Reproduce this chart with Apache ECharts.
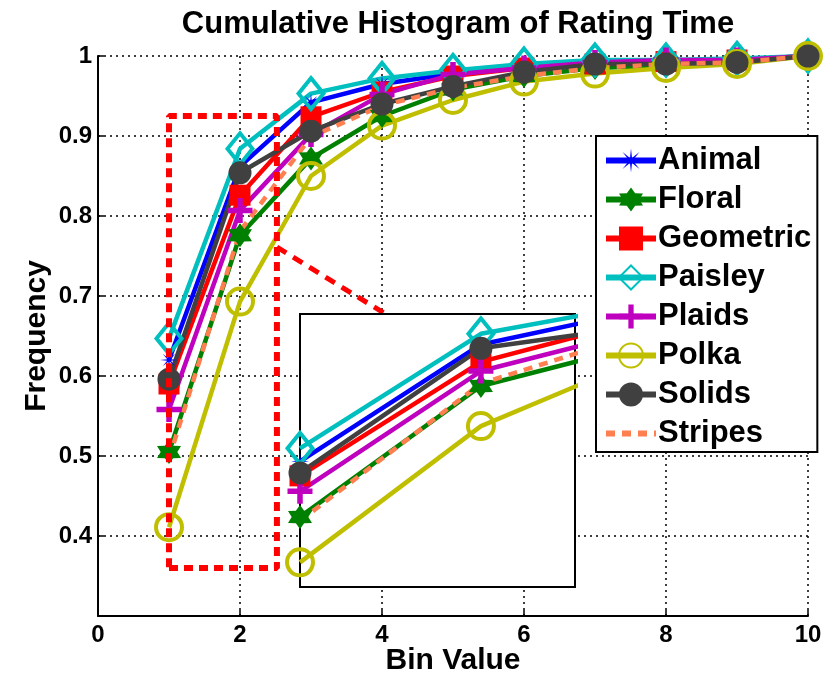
<!DOCTYPE html>
<html><head><meta charset="utf-8">
<script src="https://cdn.jsdelivr.net/npm/echarts@6/dist/echarts.min.js"></script>
<style>html,body{margin:0;padding:0;background:#fff}#c{width:835px;height:676px}</style>
</head><body><div id="c"></div>
<script>
// ---- data ----
const bins = [1, 2, 3, 4, 5, 6, 7, 8, 9, 10];
const seriesNames = ['Animal', 'Floral', 'Geometric', 'Paisley', 'Plaids', 'Polka', 'Solids', 'Stripes'];
const animal    = [0.620, 0.862, 0.942, 0.965, 0.978, 0.988, 0.990, 0.993, 0.995, 1.0];
const floral    = [0.505, 0.776, 0.872, 0.925, 0.958, 0.975, 0.985, 0.988, 0.993, 1.0];
const geometric = [0.590, 0.826, 0.924, 0.955, 0.975, 0.985, 0.990, 0.993, 0.995, 1.0];
const paisley   = [0.647, 0.884, 0.953, 0.972, 0.982, 0.990, 0.995, 0.995, 0.997, 1.0];
const plaids    = [0.558, 0.807, 0.902, 0.952, 0.977, 0.985, 0.992, 0.995, 0.995, 1.0];
const polka     = [0.411, 0.693, 0.850, 0.913, 0.945, 0.968, 0.978, 0.985, 0.990, 1.0];
const solids    = [0.596, 0.854, 0.906, 0.940, 0.962, 0.980, 0.990, 0.990, 0.992, 1.0];
const stripes   = [0.497, 0.781, 0.899, 0.938, 0.960, 0.975, 0.985, 0.990, 0.992, 1.0];
const xTicks = [0, 2, 4, 6, 8, 10];
const yTicks = [0.4, 0.5, 0.6, 0.7, 0.8, 0.9, 1];
// zoom region (data units) and connector
const zoomX = [1, 2.52];
const zoomY = [0.36, 0.925];
const connector = [[2.52, 0.761], [4.04, 0.678]];

// ---- styles ----
function starPath(n, rIn) {
  let s = 'path://';
  for (let i = 0; i < 2 * n; i++) {
    const r = i % 2 === 0 ? 1 : rIn;
    const a = Math.PI * i / n - Math.PI / 2;
    s += (i === 0 ? 'M' : 'L') + (r * Math.cos(a)).toFixed(3) + ',' + (r * Math.sin(a)).toFixed(3) + ' ';
  }
  return s + 'Z';
}
const plusPath = 'path://M-1,-0.22 L-0.22,-0.22 L-0.22,-1 L0.22,-1 L0.22,-0.22 L1,-0.22 L1,0.22 L0.22,0.22 L0.22,1 L-0.22,1 L-0.22,0.22 L-1,0.22 Z';
const styles = {
  Animal:    {color: '#0000FF', symbol: starPath(8, 0.22), size: 18, fill: true},
  Floral:    {color: '#008000', symbol: starPath(6, 0.6), size: 24, fill: true},
  Geometric: {color: '#FF0000', symbol: 'rect', size: 21, fill: true},
  Paisley:   {color: '#00BFBF', symbol: 'diamond', size: [25, 31], fill: false},
  Plaids:    {color: '#BF00BF', symbol: plusPath, size: 25, fill: true},
  Polka:     {color: '#BFBF00', symbol: 'circle', size: 26, fill: false},
  Solids:    {color: '#404040', symbol: 'circle', size: 23, fill: true},
  Stripes:   {color: '#FF7F50', symbol: 'none', size: 0, fill: true, dashed: true}
};
const values = {Animal: animal, Floral: floral, Geometric: geometric, Paisley: paisley,
  Plaids: plaids, Polka: polka, Solids: solids, Stripes: stripes};

function makeSeries(name, axisIdx, z) {
  const st = styles[name];
  return {
    name: name, type: 'line', xAxisIndex: axisIdx, yAxisIndex: axisIdx, z: z,
    data: bins.map((b, i) => [b, values[name][i]]),
    symbol: st.symbol, symbolSize: st.size, showSymbol: st.symbol !== 'none',
    animation: false, silent: true, clip: true,
    lineStyle: {color: st.color, width: 4.5, type: st.dashed ? [9, 7] : 'solid'},
    itemStyle: st.fill ? {color: st.color, borderWidth: 0, opacity: 1}
                       : {color: 'rgba(0,0,0,0)', borderColor: st.color, borderWidth: 4, opacity: 1}
  };
}

const series = [];
seriesNames.forEach(n => series.push(makeSeries(n, 0, 2)));
seriesNames.forEach(n => series.push(makeSeries(n, 1, 12)));
// dashed zoom rectangle
series.push({
  name: '_box', type: 'line', xAxisIndex: 0, yAxisIndex: 0, z: 4, symbol: 'none', silent: true, animation: false,
  data: [[zoomX[0], zoomY[0]], [zoomX[1], zoomY[0]], [zoomX[1], zoomY[1]], [zoomX[0], zoomY[1]], [zoomX[0], zoomY[0]]],
  lineStyle: {color: '#FF0000', width: 6, type: [9, 6]}
});
series.push({
  name: '_conn', type: 'line', xAxisIndex: 0, yAxisIndex: 0, z: 3, symbol: 'none', silent: true, animation: false,
  data: connector, lineStyle: {color: '#FF0000', width: 5, type: [11, 8]}
});

const FF = 'Liberation Sans, Arial, sans-serif';
const gridLine = {show: true, lineStyle: {color: '#000', width: 1.5, type: [2, 4]}};
const labelFont = {fontFamily: FF, fontWeight: 'bold', fontSize: 24, color: '#000'};
const legendData = seriesNames.map(n => styles[n].symbol === 'none'
  ? {name: n, itemStyle: {opacity: 0}} : {name: n});
const option = {
  backgroundColor: '#fff',
  animation: false,
  title: {
    text: 'Cumulative Histogram of Rating Time', left: 453, top: 4, textAlign: 'center',
    textStyle: {fontFamily: FF, fontWeight: 'bold', fontSize: 31, color: '#000'}
  },
  grid: [
    {left: 98, top: 56, width: 710, height: 560, show: false, containLabel: false, outerBoundsMode: 'none'},
    {left: 300, top: 314, width: 275, height: 273, show: true, backgroundColor: '#fff',
     borderColor: '#000', borderWidth: 2, z: 10, containLabel: false, outerBoundsMode: 'none'}
  ],
  xAxis: [
    {type: 'value', gridIndex: 0, min: xTicks[0], max: xTicks[xTicks.length - 1], interval: xTicks[1] - xTicks[0],
     name: 'Bin Value', nameLocation: 'middle', nameGap: 30, nameMoveOverlap: false,
     nameTextStyle: {fontFamily: FF, fontWeight: 'bold', fontSize: 30, color: '#000'},
     axisLine: {show: true, onZero: false, lineStyle: {color: '#000', width: 2}},
     axisTick: {show: true, inside: true, length: 6, lineStyle: {color: '#000', width: 1.5}},
     axisLabel: Object.assign({margin: 7}, labelFont),
     splitLine: gridLine},
    {type: 'value', gridIndex: 1, min: zoomX[0], max: zoomX[1], show: false, z: 10}
  ],
  yAxis: [
    {type: 'value', gridIndex: 0, min: 0.3, max: yTicks[yTicks.length - 1], interval: 0.1,
     name: 'Frequency', nameLocation: 'middle', nameGap: 46, nameMoveOverlap: false,
     nameTextStyle: {fontFamily: FF, fontWeight: 'bold', fontSize: 30, color: '#000'},
     axisLine: {show: true, onZero: false, lineStyle: {color: '#000', width: 2}},
     axisTick: {show: true, inside: true, length: 6, lineStyle: {color: '#000', width: 1.5}},
     axisLabel: Object.assign({margin: 6, showMinLabel: false,
       formatter: v => (yTicks.some(t => Math.abs(t - v) < 1e-6) ? String(+v.toFixed(1)) : '')}, labelFont),
     splitLine: gridLine},
    {type: 'value', gridIndex: 1, min: zoomY[0], max: zoomY[1], show: false, z: 10}
  ],
  legend: {
    data: legendData, orient: 'vertical', left: 596, top: 136, z: 20,
    backgroundColor: '#fff', borderColor: '#000', borderWidth: 2,
    padding: [9, 6, 3, 7], itemGap: 8, itemWidth: 50, itemHeight: 30, selectedMode: false,
    lineStyle: {width: 6},
    textStyle: {fontFamily: FF, fontWeight: 'bold', fontSize: 31, color: '#000', lineHeight: 30, padding: [0, 0, 0, -3]}
  },
  series: series
};
const chart = echarts.init(document.getElementById('c'), null, {renderer: 'canvas'});
chart.setOption(option);
</script>
</body></html>
